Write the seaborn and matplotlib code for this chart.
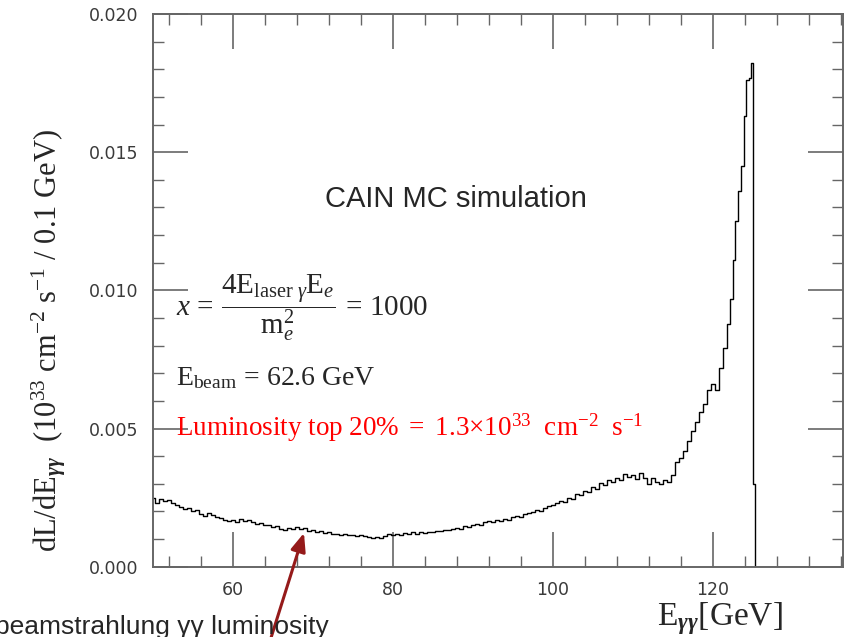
import matplotlib
matplotlib.use("Agg")
import matplotlib.pyplot as plt
from matplotlib.ticker import MultipleLocator, FormatStrFormatter
import seaborn as sns

# Photon-photon luminosity spectrum (bin centre in GeV, dL/dE per 0.1 GeV)
energy = [50.0, 50.5, 51.0, 51.5, 52.0, 52.5, 53.0, 53.5, 54.0, 54.5, 55.0, 55.5,
          56.0, 56.5, 57.0, 57.5, 58.0, 58.5, 59.0, 59.5, 60.0, 60.5, 61.0, 61.5,
          62.0, 62.5, 63.0, 63.5, 64.0, 64.5, 65.0, 65.5, 66.0, 66.5, 67.0, 67.5,
          68.0, 68.5, 69.0, 69.5, 70.0, 70.5, 71.0, 71.5, 72.0, 72.5, 73.0, 73.5,
          74.0, 74.5, 75.0, 75.5, 76.0, 76.5, 77.0, 77.5, 78.0, 78.5, 79.0, 79.5,
          80.0, 80.5, 81.0, 81.5, 82.0, 82.5, 83.0, 83.5, 84.0, 84.5, 85.0, 85.5,
          86.0, 86.5, 87.0, 87.5, 88.0, 88.5, 89.0, 89.5, 90.0, 90.5, 91.0, 91.5,
          92.0, 92.5, 93.0, 93.5, 94.0, 94.5, 95.0, 95.5, 96.0, 96.5, 97.0, 97.5,
          98.0, 98.5, 99.0, 99.5, 100.0, 100.5, 101.0, 101.5, 102.0, 102.5, 103.0,
          103.5, 104.0, 104.5, 105.0, 105.5, 106.0, 106.5, 107.0, 107.5, 108.0,
          108.5, 109.0, 109.5, 110.0, 110.5, 111.0, 111.5, 112.0, 112.5, 113.0,
          113.5, 114.0, 114.5, 115.0, 115.5, 116.0, 116.5, 117.0, 117.5, 118.0,
          118.5, 119.0, 119.5, 120.0, 120.5, 121.0, 121.5, 122.0, 122.3, 122.6,
          123.0, 123.3, 123.7, 124.0, 124.3, 124.6, 124.9, 125.15, 125.3, 136.0]
lumi = [0.00250, 0.00232, 0.00245, 0.00238, 0.00242, 0.00230, 0.00222, 0.00215,
        0.00208, 0.00212, 0.00200, 0.00205, 0.00190, 0.00183, 0.00195, 0.00186,
        0.00180, 0.00176, 0.00170, 0.00165, 0.00168, 0.00160, 0.00172, 0.00165,
        0.00170, 0.00160, 0.00155, 0.00158, 0.00150, 0.00152, 0.00145, 0.00148,
        0.00136, 0.00133, 0.00140, 0.00135, 0.00142, 0.00137, 0.00140, 0.00130,
        0.00132, 0.00126, 0.00128, 0.00122, 0.00125, 0.00118, 0.00120, 0.00116,
        0.00118, 0.00113, 0.00116, 0.00112, 0.00114, 0.00110, 0.00108, 0.00104,
        0.00108, 0.00103, 0.00110, 0.00118, 0.00114, 0.00120, 0.00116, 0.00122,
        0.00118, 0.00124, 0.00120, 0.00126, 0.00122, 0.00126, 0.00124, 0.00130,
        0.00128, 0.00133, 0.00131, 0.00136, 0.00140, 0.00138, 0.00146, 0.00142,
        0.00150, 0.00155, 0.00152, 0.00160, 0.00165, 0.00160, 0.00168, 0.00166,
        0.00172, 0.00168, 0.00178, 0.00182, 0.00180, 0.00190, 0.00195, 0.00198,
        0.00205, 0.00202, 0.00212, 0.00218, 0.00225, 0.00230, 0.00238, 0.00235,
        0.00250, 0.00245, 0.00262, 0.00258, 0.00275, 0.00270, 0.00290, 0.00282,
        0.00302, 0.00295, 0.00315, 0.00305, 0.00322, 0.00312, 0.00335, 0.00325,
        0.00332, 0.00318, 0.00340, 0.00322, 0.00300, 0.00320, 0.00305, 0.00298,
        0.00315, 0.00308, 0.00330, 0.00380, 0.00395, 0.00420, 0.00455, 0.00490,
        0.00525, 0.00560, 0.00590, 0.00640, 0.00660, 0.00640, 0.00720, 0.00790,
        0.00880, 0.00970, 0.01110, 0.01250, 0.01360, 0.01450, 0.01630, 0.01760,
        0.01770, 0.01824, 0.00300, 0.0, 0.0]

x_ticks = [60, 80, 100, 120]
y_ticks = [0.000, 0.005, 0.010, 0.015, 0.020]

sns.set_style("ticks")
plt.rcParams["font.family"] = ["DejaVu Sans"]
plt.rcParams["mathtext.fontset"] = "custom"
plt.rcParams["mathtext.rm"] = "Liberation Serif"
plt.rcParams["mathtext.it"] = "Liberation Serif:italic"
plt.rcParams["mathtext.bf"] = "Liberation Serif:bold:italic"

fig = plt.figure(figsize=(8.51, 6.37), dpi=100)
ax = fig.add_axes([0.1794, 0.1104, 0.8109, 0.8676])

sns.lineplot(x=energy, y=lumi, drawstyle="steps-mid", color="black",
             linewidth=1.0, estimator=None, ax=ax)

ax.set_xlim(50, 136.2)
ax.set_ylim(0, 0.020)
ax.set_xticks(x_ticks)
ax.set_yticks(y_ticks)
ax.xaxis.set_minor_locator(MultipleLocator(4))
ax.yaxis.set_minor_locator(MultipleLocator(0.001))
ax.yaxis.set_major_formatter(FormatStrFormatter("%.3f"))

frame = "#666666"
for sp in ax.spines.values():
    sp.set_color(frame)
    sp.set_linewidth(1.4)
ax.tick_params(which="major", direction="in", length=25, width=1.2, color=frame,
               top=True, right=True, labelsize=12.5, labelcolor="#3a3a3a", pad=10)
ax.tick_params(which="minor", direction="in", length=8, width=1.0, color=frame,
               top=True, right=True)

serif = "Liberation Serif"
ax.set_ylabel(r"dL/dE$_{\mathbf{\gamma\gamma}}$  (10$^{33}$ cm$^{-2}$ s$^{-1}$ / 0.1 GeV)",
              family=serif, fontsize=22)
ax.yaxis.set_label_coords(-0.122, 0.41)
ax.set_xlabel("")
fig.text(657 / 851, 1 - 625 / 637, r"E$_{\mathbf{\gamma\gamma}}$[GeV]", family=serif,
         fontsize=24, ha="left", va="baseline")

ax.text(0.440, 0.665, "CAIN MC simulation", transform=ax.transAxes,
        family="Liberation Sans", fontsize=21, ha="center", va="center")
ax.text(0.034, 0.453,
        r"$x\,=\,\dfrac{4\mathrm{E}_{\mathrm{laser}\ \gamma}\mathrm{E}_{e}}{\mathrm{m}_{e}^{2}}\,=\,1000$",
        transform=ax.transAxes, fontsize=21, ha="left", va="baseline")
ax.text(0.034, 0.329, r"$\mathrm{E}_{\mathrm{beam}}\,=\,62.6\ \mathrm{GeV}$",
        transform=ax.transAxes, fontsize=20, ha="left", va="baseline")
ax.text(0.034, 0.238,
        r"$\mathrm{Luminosity\ top\ 20\%\ =\ 1.3{\times}10^{33}\ \ cm^{-2}\ \ s^{-1}}$",
        transform=ax.transAxes, fontsize=19.5, color="#ff0000", ha="left",
        va="baseline")

fig.text(-5 / 851, 1 - 634 / 637, "beamstrahlung γγ luminosity",
         family="Liberation Sans", fontsize=19, ha="left", va="baseline")
ax.annotate("", xy=(68.9, 0.00122), xycoords="data",
            xytext=(270, -4), textcoords="figure pixels",
            arrowprops=dict(arrowstyle="-|>,head_length=1.1,head_width=0.45",
                            color="#951a1a", lw=2.2, shrinkA=0, shrinkB=0),
            annotation_clip=False)

fig.savefig("out.png", dpi=100)
